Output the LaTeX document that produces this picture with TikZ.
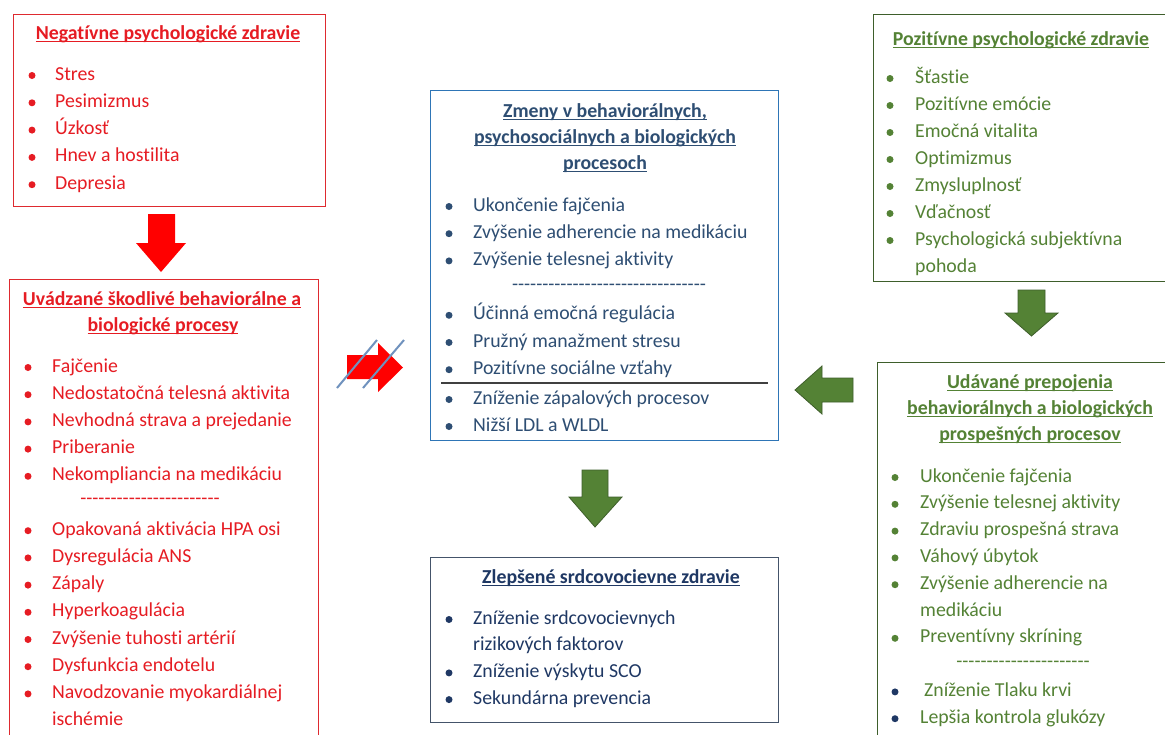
\documentclass[tikz,border=0pt]{standalone}
\usepackage{fontspec}
\setmainfont{Carlito}[Ligatures={NoCommon}]
\usetikzlibrary{calc}

\definecolor{negred}{HTML}{E61C23}
\definecolor{redline}{HTML}{DE2A2F}
\definecolor{posgreen}{HTML}{548235}
\definecolor{greenline}{HTML}{3E5E2B}
\definecolor{chgblue}{HTML}{2E4E73}
\definecolor{chgline}{HTML}{2E75B6}
\definecolor{impnavy}{HTML}{1F3864}
\definecolor{impline}{HTML}{44546A}
\definecolor{slash}{HTML}{7092BE}

\newcommand{\fsz}{\fontsize{19.8}{24}\selectfont}
\newcommand{\undl}[1]{\setbox0\hbox{#1}\rlap{\rule[-3.2pt]{\wd0}{1.2pt}}\box0}

\ExplSyntaxOn
\cs_new:Npn \dashrow #1 {\prg_replicate:nn {#1} {-{}}}
\ExplSyntaxOff

\tikzset{
  box/.style={draw, line width=1.4pt, anchor=north west, inner sep=0pt},
  txt/.style={anchor=west, inner sep=0pt, text height=14pt, text depth=5pt, font=\fsz, yshift=-1.5pt},
  ttl/.style={txt, anchor=center, font=\fsz\bfseries},
  dot/.style={circle, inner sep=0pt, minimum size=7pt, yshift=-1.5pt},
  blockarrow/.style={line width=0.8pt, line join=miter},
}

% #1 Name, #2 x Punkt, #3 x Text, #4 y0, #5 Abstand, #6 Farbe, #7 Liste
\newcommand{\blist}[7]{%
  \foreach \b/\t [count=\i from 0] in {#7}{
    \ifcase\b
    \or \node[dot, fill=#6] (#1-b\i) at (#2,#4+\i*#5) {};
    \or \node[dot, fill=impnavy] (#1-b\i) at (#2,#4+\i*#5) {};
    \fi
    \node[txt, text=#6] (#1-\i) at (#3,#4+\i*#5) {\t};
  }}

\begin{document}
\begin{tikzpicture}[x=1pt, y=-1pt]
  \clip (0,0) rectangle (1165,734);
  \fill[white] (0,0) rectangle (1165,734);

  %--- Boxen
  \node[box, draw=redline, minimum width=312pt, minimum height=192pt] (neg) at (13,14) {};
  \node[box, draw=redline, minimum width=309pt, minimum height=480pt] (harm) at (9,279) {};
  \node[box, draw=chgline, minimum width=348pt, minimum height=350pt] (chg) at (430,90) {};
  \node[box, draw=impline, minimum width=348pt, minimum height=165pt] (imp) at (430,557) {};
  \node[box, draw=greenline, minimum width=310pt, minimum height=267pt] (pos) at (873,14) {};
  \node[box, draw=greenline, minimum width=310pt, minimum height=400pt] (link) at (877,362) {};

  %--- Negatívne psychologické zdravie
  \node[ttl, text=negred] (neg-t) at (168,33) {\undl{Negatívne psychologické zdravie}};
  \blist{neg}{32}{55}{74}{27.3}{negred}{1/Stres, 1/Pesimizmus, 1/Úzkosť, 1/Hnev a hostilita, 1/Depresia}

  %--- škodlivé procesy
  \node[ttl, text=negred] (harm-t1) at (162,299) {\undl{Uvádzané škodlivé behaviorálne a}};
  \node[ttl, text=negred] (harm-t2) at (163,325) {\undl{biologické procesy}};
  \blist{harm}{28}{52}{366}{27.2}{negred}{1/Fajčenie, 1/Nedostatočná telesná aktivita,
    1/Nevhodná strava a prejedanie, 1/Priberanie, 1/Nekompliancia na medikáciu, 0/{},
    1/Opakovaná aktivácia HPA osi, 1/Dysregulácia ANS, 1/Zápaly, 1/Hyperkoagulácia,
    1/Zvýšenie tuhosti artérií, 1/Dysfunkcia endotelu, 1/Navodzovanie myokardiálnej, 0/ischémie}
  \node[txt, anchor=center, text=negred] (harm-d) at (150,498) {\dashrow{23}};

  %--- Zmeny
  \node[ttl, text=chgblue] (chg-t1) at (605,111) {\undl{Zmeny v behaviorálnych,}};
  \node[ttl, text=chgblue] (chg-t2) at (605,137) {\undl{psychosociálnych a biologických}};
  \node[ttl, text=chgblue] (chg-t3) at (605,163) {\undl{procesoch}};
  \blist{chg}{449}{473}{205}{27.2}{chgblue}{1/Ukončenie fajčenia, 1/Zvýšenie adherencie na medikáciu,
    1/Zvýšenie telesnej aktivity, 0/{}, 1/Účinná emočná regulácia, 1/Pružný manažment stresu,
    1/Pozitívne sociálne vzťahy}
  \node[txt, anchor=center, text=chgblue] (chg-d) at (609,284) {\dashrow{32}};
  \draw[line width=1.1pt, black!75] ($(chg.north west)+(11,293)$) coordinate (sepL)
    -- ($(chg.north east)+(-11,293)$) coordinate (sepR);
  \blist{chgb}{449}{473}{398}{27}{chgblue}{1/Zníženie zápalových procesov, 1/Nižší LDL a WLDL}

  %--- Zlepšené srdcovocievne zdravie
  \node[ttl, text=impnavy] (imp-t) at (611,577) {\undl{Zlepšené srdcovocievne zdravie}};
  \blist{imp}{449}{473}{618}{26.7}{impnavy}{1/Zníženie srdcovocievnych, 0/rizikových faktorov,
    1/Zníženie výskytu SCO, 1/Sekundárna prevencia}

  %--- Pozitívne psychologické zdravie
  \node[ttl, text=posgreen] (pos-t) at (1021,39) {\undl{Pozitívne psychologické zdravie}};
  \blist{pos}{890}{915}{77}{27}{posgreen}{1/Šťastie, 1/Pozitívne emócie, 1/Emočná vitalita,
    1/Optimizmus, 1/Zmysluplnosť, 1/Vďačnosť, 1/Psychologická subjektívna, 0/pohoda}

  %--- prepojenia
  \node[ttl, text=posgreen] (link-t1) at (1030,382) {\undl{Udávané prepojenia}};
  \node[ttl, text=posgreen] (link-t2) at (1030,408) {\undl{behaviorálnych a biologických}};
  \node[ttl, text=posgreen] (link-t3) at (1030,434) {\undl{prospešných procesov}};
  \blist{link}{895}{920}{476}{26.8}{posgreen}{1/Ukončenie fajčenia, 1/Zvýšenie telesnej aktivity,
    1/Zdraviu prospešná strava, 1/Váhový úbytok, 1/Zvýšenie adherencie na, 0/medikáciu,
    1/Preventívny skríning, 0/{}, 2/{\hspace{4pt}Zníženie Tlaku krvi}, 2/Lepšia kontrola glukózy}
  \node[txt, anchor=center, text=posgreen] (link-d) at (1023,661) {\dashrow{22}};

  %--- Blockpfeile
  \fill[red] (148,214) -- (175,214) -- (175,243) -- (186,243) -- (161,272)
    -- (136,243) -- (148,243) -- cycle;
  \fill[red] (347,355) -- (378,355) -- (378,343) -- (403,367.5) -- (378,392)
    -- (378,379) -- (347,379) -- cycle;
  \draw[slash, line width=2pt] (337,388) -- (377,340);
  \draw[slash, line width=2pt] (363,388) -- (404,340);
  \draw[blockarrow, fill=posgreen, draw=greenline] (582,470) -- (608,470) -- (608,497)
    -- (622,497) -- (595,527) -- (569,497) -- (582,497) -- cycle;
  \draw[blockarrow, fill=posgreen, draw=greenline] (1018,290) -- (1045,290) -- (1045,313)
    -- (1058,313) -- (1031.5,336) -- (1005,313) -- (1018,313) -- cycle;
  \draw[blockarrow, fill=posgreen, draw=greenline] (853,378) -- (822,378) -- (822,366)
    -- (795,390) -- (822,414) -- (822,402) -- (853,402) -- cycle;
\end{tikzpicture}
\end{document}
